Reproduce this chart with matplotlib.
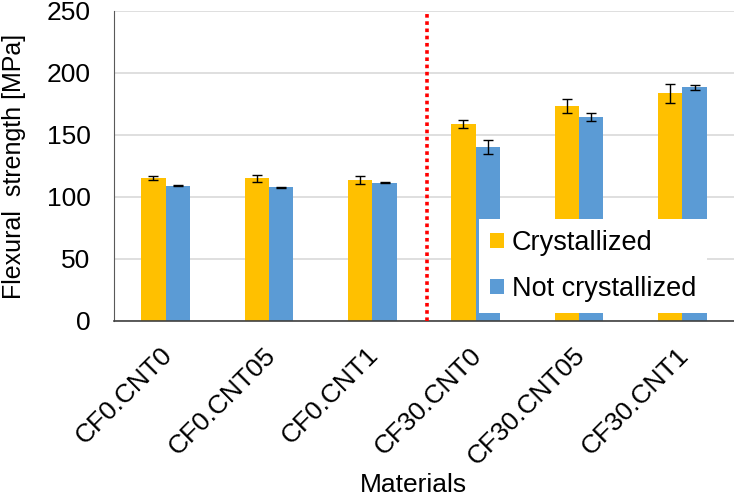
import numpy as np
import matplotlib
matplotlib.use('Agg')
import matplotlib.pyplot as plt
import matplotlib.transforms as mtransforms

plt.rcParams['font.family'] = ['Liberation Sans', 'DejaVu Sans']

# data
materials = ['CF0.CNT0', 'CF0.CNT05', 'CF0.CNT1', 'CF30.CNT0', 'CF30.CNT05', 'CF30.CNT1']
crystallized = [115.6, 115.0, 113.8, 159.1, 173.4, 183.5]
crystallized_err = [1.5, 2.5, 3.0, 3.3, 5.4, 8.0]
not_crystallized = [109.1, 108.0, 111.5, 140.5, 164.5, 188.5]
not_crystallized_err = [0.5, 0.4, 0.5, 5.8, 3.0, 2.2]
split_pos = 2.53  # red dotted separator between CF0 and CF30

fig = plt.figure(figsize=(7.34, 4.97), dpi=100)
ax = fig.add_axes([114 / 734, 1 - 321 / 497, 620 / 734, 310 / 497])

x = np.arange(len(materials))
w = 0.237
ax.bar(x - w / 2, crystallized, w, color='#FFC000', label='Crystallized', zorder=2)
ax.bar(x + w / 2, not_crystallized, w, color='#5B9BD5', label='Not crystallized', zorder=2)
ax.errorbar(x - w / 2, crystallized, yerr=crystallized_err, fmt='none',
            ecolor='black', elinewidth=1, capsize=3.5, capthick=1, zorder=3)
ax.errorbar(x + w / 2, not_crystallized, yerr=not_crystallized_err, fmt='none',
            ecolor='black', elinewidth=1, capsize=3.5, capthick=1, zorder=3)

ax.axvline(split_pos, color='#FF0000', ls=(0, (1, 1)), lw=2.6, zorder=4)

ax.set_xlim(-0.5, 5.5)
ax.set_ylim(0, 250)
ax.set_yticks([0, 50, 100, 150, 200, 250])
ax.yaxis.grid(True, color='#D9D9D9', lw=1.2, zorder=0)
ax.set_axisbelow(True)
for s in ['top', 'right']:
    ax.spines[s].set_visible(False)
ax.spines['left'].set_color('#595959')
ax.spines['bottom'].set_color('#404040')
ax.spines['bottom'].set_linewidth(1.2)
ax.tick_params(axis='y', length=0, labelsize=19, pad=17)
ax.tick_params(axis='x', length=0, labelsize=19, pad=16)
ax.set_xticks(x)
ax.set_xticklabels(materials, rotation=45, ha='right', va='top', rotation_mode='anchor')
# move rotated labels a bit left so their ends sit under the groups
shift = mtransforms.ScaledTranslation(-6 / 100, 0, fig.dpi_scale_trans)
for lab in ax.get_xticklabels():
    lab.set_transform(lab.get_transform() + shift)

ax.set_xlabel('Materials', fontsize=19, va='top')
ax.xaxis.set_label_coords(0.483, -0.49)
ax.set_ylabel('Flexural  strength [MPa]', fontsize=18, labelpad=15)

leg = ax.legend(loc='center', bbox_to_anchor=(0.7726, 0.177), fontsize=19.5,
                frameon=True, fancybox=False, handlelength=0.5, handleheight=0.5,
                handletextpad=0.3, labelspacing=0.75, borderpad=0.4)
leg.get_frame().set_edgecolor('none')
leg.get_frame().set_facecolor('white')
leg.get_frame().set_alpha(1)
leg.set_zorder(5)

fig.savefig('out.png', dpi=100)
